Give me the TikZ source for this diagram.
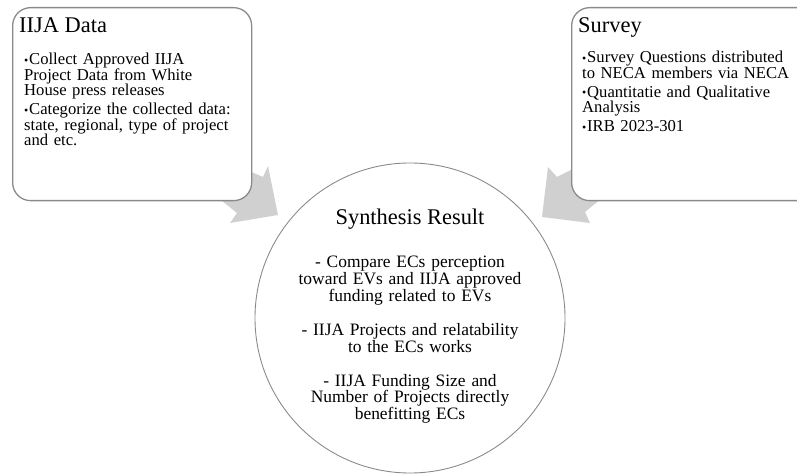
\documentclass[tikz,border=0pt]{standalone}
\usepackage{fontspec}
\setmainfont{Liberation Serif}
\usetikzlibrary{positioning}

\definecolor{boxline}{HTML}{8A8A8A}
\definecolor{arrowfill}{HTML}{D0D0D0}

\newcommand{\tightlines}{\lineskiplimit=-20bp\relax}
\newcommand{\bitem}[1]{\noindent\hangindent=5bp\hangafter=1%
  \makebox[5bp][l]{\raisebox{0.5bp}{\fontsize{12}{12}\selectfont\textbullet}}#1}
\newcommand{\bgap}{\par\vspace{3.5bp}}

\tikzset{
  infobox/.style={draw=boxline, line width=1.3pt, fill=white, rounded corners=18bp,
    inner sep=0pt, anchor=north west},
  titletext/.style={font=\fontsize{22.5}{24}\selectfont, inner sep=0pt, anchor=base west},
  bullettext/.style={font=\fontsize{16.7}{15.5}\selectfont\tightlines,
    inner sep=0pt, anchor=base west, text width=260bp, align=left},
  synthcircle/.style={circle, draw=boxline, line width=0.9pt, inner sep=0pt,
    minimum size=310bp},
  flowarrow/.style={fill=arrowfill, draw=none}
}

\begin{document}
\begin{tikzpicture}[x=1bp, y=-1bp]
    \useasboundingbox (0,0) rectangle (797,474);

    % gray block arrows (behind the boxes)
    \fill[flowarrow] (200,150) -- (263,177) -- (268,166) -- (278,215)
      -- (230,223) -- (237,213) -- (190,175) -- cycle;
    \fill[flowarrow] (610,150) -- (557,177) -- (548,167) -- (542,217)
      -- (590,223) -- (585,212) -- (630,175) -- cycle;

    % source boxes
    \node[infobox, minimum width=239bp, minimum height=193bp] (iija) at (12,7) {};
    \node[infobox, minimum width=260bp, minimum height=193bp] (survey) at (571,7) {};

    \node[titletext] (iijatitle) at (19,33) {IIJA Data};
    \node[bullettext] (iijalist) at (24,65) {%
      \bitem{Collect Approved IIJA\\Project Data from White\\House press releases}\bgap
      \bitem{Categorize the collected data:\\state, regional, type of project\\and etc.}};

    \node[titletext] (surveytitle) at (578,33) {Survey};
    \node[bullettext] (surveylist) at (582,63) {%
      \bitem{Survey Questions distributed\\to NECA members via NECA}\bgap
      \bitem{Quantitatie and Qualitative\\Analysis}\bgap
      \bitem{IRB 2023-301}};

    % synthesis circle
    \node[synthcircle] (synth) at (410,318) {};
    \node[font=\fontsize{22.5}{24}\selectfont, anchor=base, inner sep=0pt]
      (synthtitle) at (410,225) {Synthesis Result};
    \node[font=\fontsize{17.5}{16.7}\selectfont\tightlines, anchor=base,
      inner sep=0pt, text width=270bp, align=center] (synthlist) at (410,268) {%
      - Compare ECs perception\\toward EVs and IIJA approved\\funding related to EVs\\[17.5bp]
      - IIJA Projects and relatability\\to the ECs works\\[17.5bp]
      - IIJA Funding Size and\\Number of Projects directly\\benefitting ECs};
\end{tikzpicture}
\end{document}
